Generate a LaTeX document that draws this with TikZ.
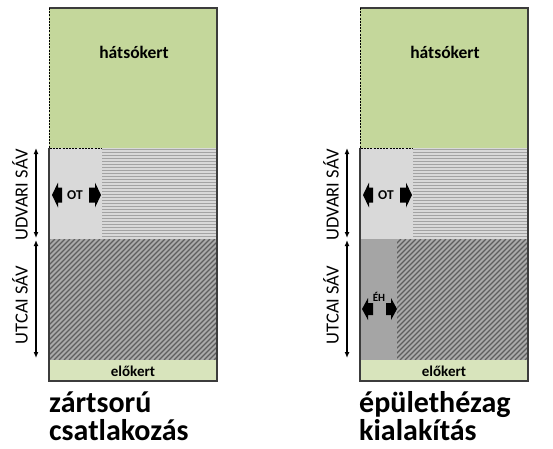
\documentclass[tikz,border=0pt]{standalone}
\usepackage{fontspec}
\setmainfont{Carlito}
\usetikzlibrary{arrows.meta}
\definecolor{grn}{HTML}{C4D79B}
\definecolor{elo}{HTML}{D8E4BC}
\definecolor{lgray}{HTML}{D9D9D9}
\definecolor{stripe}{HTML}{A3A3A3}
\definecolor{hbg}{HTML}{AAAAAA}
\definecolor{hline}{HTML}{5E5E5E}
\definecolor{dgray}{HTML}{A5A5A5}
\definecolor{frame}{HTML}{3C3C3C}
\begin{document}
\begin{tikzpicture}[x=1pt,y=-1pt,
  framestyle/.style={draw=frame,line width=1.4pt},
  dashframe/.style={draw=black,line width=0.8pt,dash pattern=on 2pt off 1.2pt},
  dimarrow/.style={line width=1.8pt,{Latex[length=6pt,width=5pt]}-{Latex[length=6pt,width=5pt]}},
  sidelabel/.style={rotate=90,font=\fontsize{18.5}{20}\selectfont},
  fatarr/.style={fill=black,draw=none},
  lbl/.style={font=\bfseries\fontsize{17.5}{19}\selectfont},
  elolbl/.style={font=\bfseries\fontsize{15}{16}\selectfont},
  title/.style={font=\bfseries\fontsize{30}{32}\selectfont,anchor=base west,inner sep=0pt}]
\useasboundingbox (0,0) rectangle (553,448);

\foreach \ox/\nm/\hx in {49/L/49, 360/R/397}{
  % backyard
  \fill[grn] (\ox,8) rectangle (\ox+168,148);
  % court zone
  \fill[lgray] (\ox,148) rectangle (\ox+168,239);
  \begin{scope}
    \clip (\ox+53,148) rectangle (\ox+168,239);
    \foreach \k in {0,...,30}{
      \draw[stripe,line width=0.9pt] (\ox+53,149.5+3*\k) -- (\ox+168,149.5+3*\k);
    }
  \end{scope}
  % street zone
  \fill[dgray] (\ox,239) rectangle (\ox+168,360);
  \fill[hbg] (\hx,239) rectangle (\ox+168,360);
  \begin{scope}
    \clip (\hx,239) rectangle (\ox+168,360);
    \foreach \k in {0,...,60}{
      \draw[hline,line width=1.25pt] (\ox-130+5*\k,360) -- (\ox-130+5*\k+121,239);
    }
  \end{scope}
  % front yard
  \fill[elo] (\ox,360) rectangle (\ox+168,381);
  % frame
  \draw[framestyle] (\ox,148) -- (\ox,381) -- (\ox+168,381) -- (\ox+168,8) -- (\ox,8);
  \draw[dashframe] (\ox,8) -- (\ox,148) -- (\ox+53,148);
  % labels
  \node[lbl] (hk\nm) at (\ox+85,52) {hátsókert};
  \node[elolbl] (ek\nm) at (\ox+84,371) {előkert};
  \node[font=\bfseries\fontsize{13.5}{14}\selectfont] (ot\nm) at (\ox+26,195) {OT};
  \fill[fatarr] (\ox+3,195) -- (\ox+9,182.5) -- (\ox+9,187.5) -- (\ox+13,187.5) -- (\ox+13,202.5) -- (\ox+9,202.5) -- (\ox+9,207.5) -- cycle;
  \fill[fatarr] (\ox+52,195) -- (\ox+46,182.5) -- (\ox+46,187.5) -- (\ox+40,187.5) -- (\ox+40,202.5) -- (\ox+46,202.5) -- (\ox+46,207.5) -- cycle;
  % side dimensions
  \coordinate (u1\nm) at (\ox-13,148);
  \coordinate (u2\nm) at (\ox-13,238);
  \coordinate (s1\nm) at (\ox-13,240);
  \coordinate (s2\nm) at (\ox-13,358);
  \draw[dimarrow] (u1\nm) -- (u2\nm);
  \draw[dimarrow] (s1\nm) -- (s2\nm);
  \node[sidelabel] (ud\nm) at (\ox-29,195) {UDVARI SÁV};
  \node[sidelabel] (ut\nm) at (\ox-29,305) {UTCAI SÁV};
}

% gap arrows (right panel)
\node[font=\bfseries\fontsize{11}{12}\selectfont] (eh) at (379,297) {ÉH};
\fill[fatarr] (362,309) -- (368,298) -- (368,303) -- (373,303) -- (373,315) -- (368,315) -- (368,320) -- cycle;
\fill[fatarr] (397,309) -- (391,298) -- (391,303) -- (386,303) -- (386,315) -- (391,315) -- (391,320) -- cycle;

% titles
\node[title] (t1) at (49,412) {zártsorú};
\node[title] (t2) at (49,440) {csatlakozás};
\node[title] (t3) at (359,412) {épülethézag};
\node[title] (t4) at (359,440) {kialakítás};
\end{tikzpicture}
\end{document}
